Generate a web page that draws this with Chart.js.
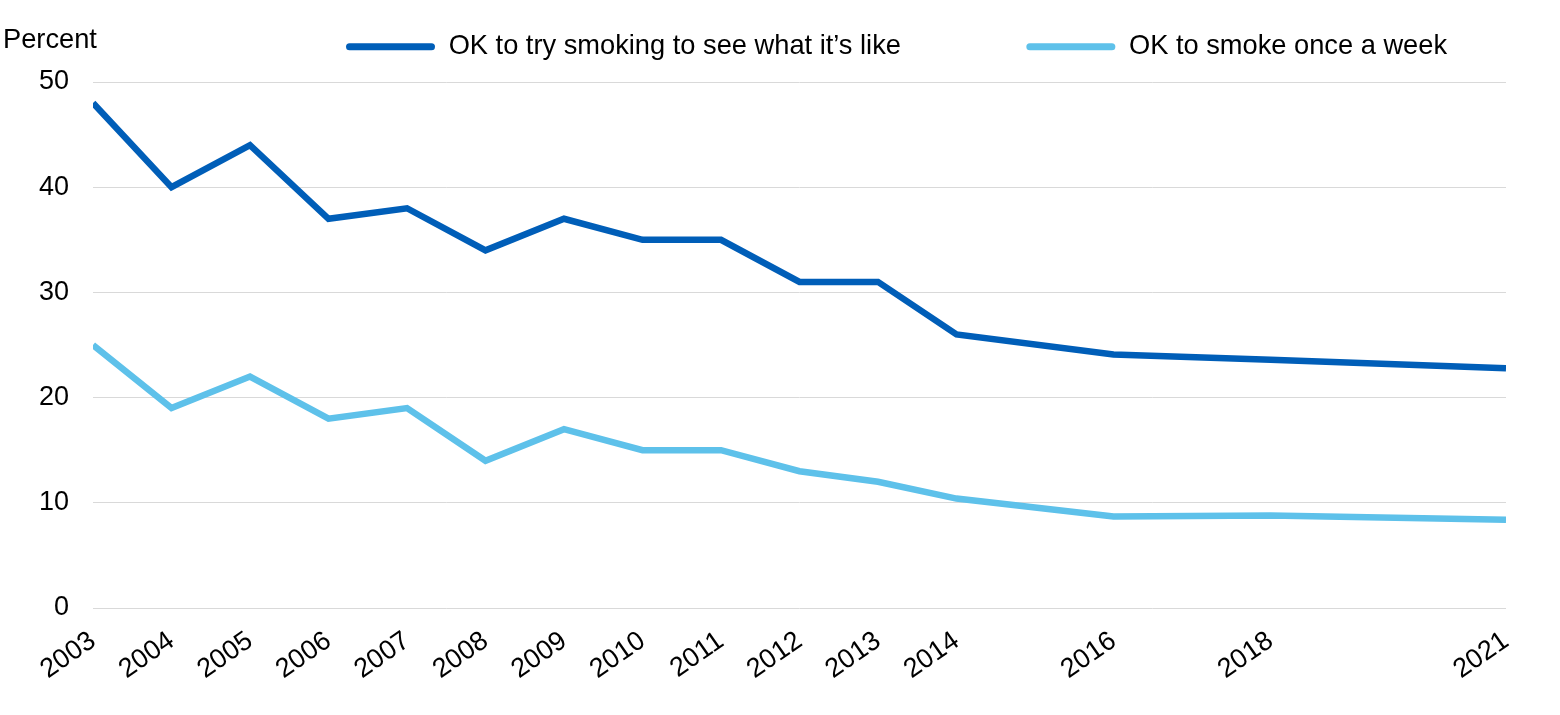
<!DOCTYPE html>
<html>
<head>
<meta charset="utf-8">
<script src="https://cdn.jsdelivr.net/npm/chart.js@4/dist/chart.umd.min.js"></script>
<style>
  html, body { margin: 0; padding: 0; background: #ffffff; }
  #wrap { width: 1560px; height: 715px; position: relative; }
</style>
</head>
<body>
<div id="wrap"><canvas id="c"></canvas></div>
<script>
// ---- data ----
const years = [2003, 2004, 2005, 2006, 2007, 2008, 2009, 2010, 2011, 2012, 2013, 2014, 2016, 2018, 2021];
const okToTry = [48, 40, 44, 37, 38, 34, 37, 35, 35, 31, 31, 26, 24.1, 23.6, 22.8];
const okWeekly = [25, 19, 22, 18, 19, 14, 17, 15, 15, 13, 12, 10.4, 8.7, 8.8, 8.4];
const seriesNames = ["OK to try smoking to see what it\u2019s like", "OK to smoke once a week"];
const yTicks = [0, 10, 20, 30, 40, 50];
const yTitle = "Percent";

const DARK = '#005EB8';
const LIGHT = '#5EC1EA';
const FAMILY = "'Liberation Sans', Arial, sans-serif";
const TICK_FONT = { family: FAMILY, size: 27 };
const LEGEND_FONT = { family: FAMILY, size: 27.25 };

const toPts = (vals) => years.map((y, i) => ({ x: y, y: vals[i] }));

const legendPlace = {
  id: 'legendPlace',
  afterLayout(chart) {
    const lg = chart.legend;
    const pad = chart.options.plugins.legend.labels.padding;
    lg.left = 346 - pad;
    lg.right = 3000;
    lg.top = 33 - pad;
  }
};

const percentLabel = {
  id: 'percentLabel',
  afterDraw(chart) {
    const ctx = chart.ctx;
    ctx.save();
    ctx.font = `${LEGEND_FONT.size}px ${FAMILY}`;
    ctx.fillStyle = '#000000';
    ctx.textAlign = 'left';
    ctx.textBaseline = 'alphabetic';
    ctx.fillText(yTitle, 3, 48);
    ctx.restore();
  }
};

new Chart(document.getElementById('c'), {
  type: 'line',
  data: {
    datasets: [
      { label: seriesNames[0], data: toPts(okToTry), borderColor: DARK, backgroundColor: DARK,
        borderWidth: 6.5, pointRadius: 0, pointHoverRadius: 0, tension: 0 },
      { label: seriesNames[1], data: toPts(okWeekly), borderColor: LIGHT, backgroundColor: LIGHT,
        borderWidth: 6.5, pointRadius: 0, pointHoverRadius: 0, tension: 0 }
    ]
  },
  options: {
    responsive: true,
    maintainAspectRatio: false,
    animation: false,
    layout: { padding: { left: 0, right: 54, top: 0, bottom: 0 } },
    plugins: {
      tooltip: { enabled: false },
      legend: {
        position: 'top',
        align: 'start',
        maxHeight: 82,
        labels: {
          padding: 125.4,
          boxWidth: 89,
          boxHeight: 7,
          useBorderRadius: true,
          borderRadius: 3.5,
          color: '#000000',
          font: LEGEND_FONT,
          generateLabels(chart) {
            const items = Chart.defaults.plugins.legend.labels.generateLabels(chart);
            items.forEach(it => { it.lineWidth = 0; });
            return items;
          }
        }
      }
    },
    scales: {
      x: {
        type: 'linear',
        min: years[0],
        max: years[years.length - 1],
        afterBuildTicks(scale) { scale.ticks = years.map(v => ({ value: v })); },
        afterFit(scale) { scale.height = 107; },
        grid: { display: false, drawTicks: false },
        border: { display: false },
        ticks: {
          autoSkip: false,
          maxRotation: 35,
          minRotation: 35,
          padding: 17,
          color: '#000000',
          font: TICK_FONT,
          callback: (v) => String(v)
        }
      },
      y: {
        min: 0,
        max: 50,
        afterBuildTicks(scale) { scale.ticks = yTicks.map(v => ({ value: v })); },
        afterFit(scale) { scale.width = 93; },
        grid: { color: '#D9D9D9', lineWidth: 1, drawTicks: false },
        border: { display: false },
        ticks: { padding: 24, color: '#000000', font: TICK_FONT, callback: (v) => String(v) }
      }
    }
  },
  plugins: [legendPlace, percentLabel]
});
</script>
</body>
</html>
